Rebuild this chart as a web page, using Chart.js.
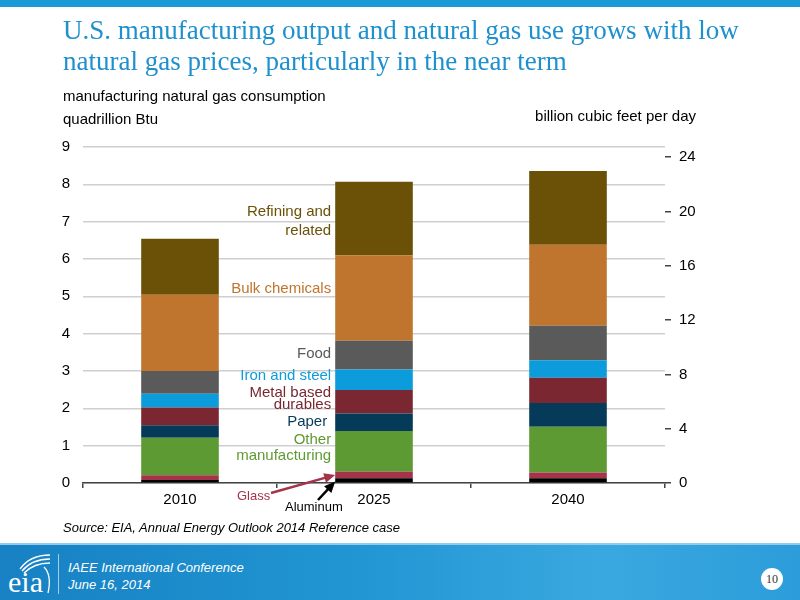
<!DOCTYPE html>
<html>
<head>
<meta charset="utf-8">
<script src="https://cdn.jsdelivr.net/npm/chart.js@4.4.1/dist/chart.umd.min.js"></script>
<style>
  html, body { margin: 0; padding: 0; background: #fff; }
  #page { position: relative; width: 800px; height: 600px; overflow: hidden; font-family: "Liberation Sans", Arial, sans-serif; }
  #chartBox { position: absolute; left: 0; top: 0; width: 800px; height: 600px; }
  .topbar { position: absolute; left: 0; top: 0; width: 800px; height: 7px; background: #1A9AD6; }
  .title { position: absolute; left: 63px; top: 15px; width: 720px; font-family: "Liberation Serif", "Times New Roman", serif; font-size: 27px; line-height: 31px; color: #1E90CE; }
  .axisTitle { position: absolute; font-size: 15px; color: #000; }
  .source { position: absolute; left: 63px; top: 520px; font-size: 13px; font-style: italic; color: #000; }
  .footer { position: absolute; left: 0; top: 543px; width: 800px; height: 57px;
    background: linear-gradient(90deg, #1781C3 0%, #2196D3 45%, #3AA8E0 75%, #2C9DDA 100%); border-top: 2px solid #8CCDEE; }
  .footer .sep { position: absolute; left: 58px; top: 9px; width: 1px; height: 40px; background: rgba(255,255,255,0.6); }
  .footer .conf { position: absolute; left: 68px; top: 14px; font-size: 13px; font-style: italic; color: #fff; line-height: 17px; }
  .footer .pg { position: absolute; left: 761px; top: 23px; width: 22px; height: 22px; border-radius: 11px; background: #fff; color: #333; font-family: "Liberation Serif", serif; font-size: 12px; line-height: 22px; text-align: center; }
  .footer svg { position: absolute; left: 6px; top: 6px; }
</style>
</head>
<body>
<div id="page">
  <div id="chartBox"><canvas id="chart"></canvas></div>
  <div class="topbar"></div>
  <div class="title">U.S. manufacturing output and natural gas use grows with low natural gas prices, particularly in the near term</div>
  <div class="axisTitle" style="left:63px; top:87px;">manufacturing natural gas consumption</div>
  <div class="axisTitle" style="left:63px; top:110px;">quadrillion Btu</div>
  <div class="axisTitle" style="right:104px; top:107px;">billion cubic feet per day</div>
  <div class="source">Source: EIA, Annual Energy Outlook 2014 Reference case</div>
  <div class="footer">
    <svg width="50" height="46" viewBox="0 0 50 46">
      <path d="M14 18 Q24 4 44 4" stroke="#fff" stroke-width="1.3" fill="none"/>
      <path d="M16 20 Q26 8 44 8" stroke="#fff" stroke-width="1.3" fill="none"/>
      <path d="M18 22 Q28 12 44 12" stroke="#fff" stroke-width="1.3" fill="none"/>
      <path d="M38 16 Q46 24 42 42" stroke="#fff" stroke-width="1.3" fill="none"/>
      <text x="2" y="41" font-family="Liberation Serif, serif" font-size="30" fill="#fff">eia</text>
    </svg>
    <div class="sep"></div>
    <div class="conf">IAEE International Conference<br>June 16, 2014</div>
    <div class="pg">10</div>
  </div>
</div>
<script>
// categories and values (quadrillion Btu)
const years = ['2010', '2025', '2040'];
const aluminum = [0.08, 0.13, 0.13];
const glass = [0.13, 0.17, 0.15];
const otherMfg = [1.00, 1.09, 1.23];
const paper = [0.34, 0.47, 0.63];
const metalDurables = [0.47, 0.63, 0.68];
const ironSteel = [0.37, 0.55, 0.47];
const food = [0.61, 0.77, 0.92];
const bulkChemicals = [2.04, 2.29, 2.17];
const refining = [1.50, 1.97, 1.98];

const leftTicks = [0, 1, 2, 3, 4, 5, 6, 7, 8, 9];
const rightTicks = [0, 4, 8, 12, 16, 20, 24];
const rightMax = 24.75; // bcf/d at the top of the left axis (9 quad Btu)

const seriesList = [
  { label: 'Aluminum', data: aluminum, color: '#000000' },
  { label: 'Glass', data: glass, color: '#A5344A' },
  { label: 'Other manufacturing', data: otherMfg, color: '#5E9A33' },
  { label: 'Paper', data: paper, color: '#063A59' },
  { label: 'Metal based durables', data: metalDurables, color: '#7A2731' },
  { label: 'Iron and steel', data: ironSteel, color: '#0C9BDB' },
  { label: 'Food', data: food, color: '#5A5A5A' },
  { label: 'Bulk chemicals', data: bulkChemicals, color: '#BF752E' },
  { label: 'Refining and related', data: refining, color: '#6A5107' }
];

// segment labels beside the 2025 bar (y in left-axis units)
const segLabels = [
  { lines: [['Refining and', 7.26], ['related', 6.75]], color: '#6A5107' },
  { lines: [['Bulk chemicals', 5.2]], color: '#BF752E' },
  { lines: [['Food', 3.46]], color: '#5A5A5A' },
  { lines: [['Iron and steel', 2.87]], color: '#0C9BDB' },
  { lines: [['Metal based', 2.41], ['durables', 2.09]], color: '#7A2731' },
  { lines: [['Paper', 1.63]], color: '#063A59', shift: 4 },
  { lines: [['Other', 1.15], ['manufacturing', 0.72]], color: '#5E9A33' }
];

function arrow(ctx, x1, y1, x2, y2, color) {
  const a = Math.atan2(y2 - y1, x2 - x1);
  ctx.strokeStyle = color;
  ctx.fillStyle = color;
  ctx.lineWidth = 2.5;
  ctx.beginPath();
  ctx.moveTo(x1, y1);
  ctx.lineTo(x2 - 8 * Math.cos(a), y2 - 8 * Math.sin(a));
  ctx.stroke();
  ctx.beginPath();
  ctx.moveTo(x2, y2);
  ctx.lineTo(x2 - 11 * Math.cos(a) + 5 * Math.sin(a), y2 - 11 * Math.sin(a) - 5 * Math.cos(a));
  ctx.lineTo(x2 - 11 * Math.cos(a) - 5 * Math.sin(a), y2 - 11 * Math.sin(a) + 5 * Math.cos(a));
  ctx.closePath();
  ctx.fill();
}

const labelPlugin = {
  id: 'segLabels',
  afterDatasetsDraw(chart) {
    const ctx = chart.ctx;
    const y = chart.scales.y;
    const bar = chart.getDatasetMeta(0).data[1];
    const left = bar.x - bar.width / 2;
    ctx.save();
    ctx.font = '15px "Liberation Sans", Arial, sans-serif';
    ctx.textAlign = 'right';
    ctx.textBaseline = 'middle';
    segLabels.forEach(s => {
      ctx.fillStyle = s.color;
      s.lines.forEach(l => ctx.fillText(l[0], left - 4 - (s.shift || 0), y.getPixelForValue(l[1])));
    });
    // Glass and Aluminum callouts
    const glassY = y.getPixelForValue(aluminum[1] + glass[1] / 2);
    const alY = y.getPixelForValue(aluminum[1] / 2);
    ctx.font = '13px "Liberation Sans", Arial, sans-serif';
    ctx.textAlign = 'left';
    ctx.fillStyle = '#A5344A';
    ctx.fillText('Glass', 237, 496);
    arrow(ctx, 271, 493, left, glassY, '#A5344A');
    ctx.fillStyle = '#000';
    ctx.fillText('Aluminum', 285, 507);
    arrow(ctx, 318, 500, left, alY + 1, '#000');
    ctx.restore();
  }
};

new Chart(document.getElementById('chart'), {
  type: 'bar',
  data: {
    labels: years,
    datasets: seriesList.map(s => ({
      label: s.label,
      data: s.data,
      backgroundColor: s.color,
      borderWidth: 0,
      barPercentage: 0.4,
      categoryPercentage: 1.0,
      yAxisID: 'y'
    }))
  },
  options: {
    responsive: true,
    maintainAspectRatio: false,
    animation: false,
    layout: { padding: { top: 147, right: 0, bottom: 0, left: 0 } },
    plugins: { legend: { display: false }, tooltip: { enabled: false } },
    scales: {
      x: {
        stacked: true,
        afterFit: s => { s.height = 117; },
        grid: { offset: true, drawOnChartArea: false, tickLength: 5, color: '#444', lineWidth: 1.5 },
        border: { color: '#444', width: 1.5 },
        ticks: { color: '#000', font: { size: 15, family: '"Liberation Sans", Arial' }, padding: 3 }
      },
      y: {
        stacked: true,
        position: 'left',
        min: 0, max: 9,
        afterFit: s => { s.width = 83; },
        afterBuildTicks: s => { s.ticks = leftTicks.map(v => ({ value: v })); },
        grid: { color: '#CFCFCF', lineWidth: 1.5, drawTicks: false },
        border: { display: false },
        ticks: { color: '#000', font: { size: 15, family: '"Liberation Sans", Arial' }, padding: 13 }
      },
      y2: {
        position: 'right',
        min: 0, max: rightMax,
        afterFit: s => { s.width = 135; },
        afterBuildTicks: s => { s.ticks = rightTicks.map(v => ({ value: v })); },
        grid: { drawOnChartArea: false, tickLength: 6, color: '#444', lineWidth: 1.5 },
        border: { display: false },
        ticks: { color: '#000', font: { size: 15, family: '"Liberation Sans", Arial' }, padding: 8 }
      }
    }
  },
  plugins: [labelPlugin]
});
</script>
</body>
</html>
